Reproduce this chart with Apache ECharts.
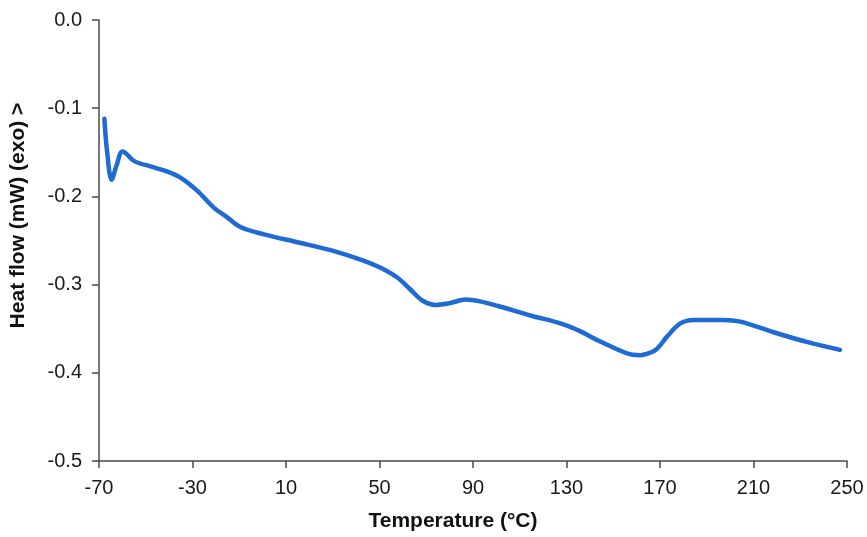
<!DOCTYPE html>
<html>
<head>
<meta charset="utf-8">
<script src="https://cdn.jsdelivr.net/npm/echarts@6/dist/echarts.min.js"></script>
<style>
  html, body { margin: 0; padding: 0; background: #fff; }
  #chart { width: 867px; height: 537px; }
</style>
</head>
<body>
<div id="chart"></div>
<script>
// DSC trace: temperature (°C) vs heat flow (mW), exotherm up
const temperature = [-67.7, -66.5, -64.6, -62.5, -59.9, -54.9, -48, -40.7, -35, -27.8, -20.8, -15, -9.3, 0.6, 14.9, 29.1, 43.4, 50.5, 57.6, 63, 68.3, 74, 80, 86.8, 93, 100.4, 114.6, 127.4, 136, 141.7, 155.9, 161.6, 166, 168.7, 173, 178.7, 184.4, 197.2, 204.4, 218.6, 232.8, 247];
const heatFlow = [-0.112, -0.150, -0.181, -0.165, -0.149, -0.160, -0.166, -0.172, -0.179, -0.194, -0.213, -0.224, -0.235, -0.243, -0.252, -0.261, -0.273, -0.281, -0.292, -0.305, -0.318, -0.323, -0.321, -0.317, -0.319, -0.324, -0.335, -0.344, -0.353, -0.361, -0.378, -0.380, -0.377, -0.373, -0.359, -0.344, -0.340, -0.340, -0.342, -0.354, -0.365, -0.374];

const xTicks = [-70, -30, 10, 50, 90, 130, 170, 210, 250];
const yTicks = [0.0, -0.1, -0.2, -0.3, -0.4, -0.5];

const chart = echarts.init(document.getElementById('chart'), null, { renderer: 'canvas' });
const axisColor = '#4a4a4a';
const fontFamily = 'Liberation Sans, Arial, sans-serif';
const labelFont = { fontFamily: fontFamily, fontSize: 20, color: '#1a1a1a' };
const nameFont = { fontFamily: fontFamily, fontSize: 21, fontWeight: 'bold', color: '#111' };

chart.setOption({
  backgroundColor: '#ffffff',
  animation: false,
  grid: { left: 98, right: 20, top: 20, bottom: 74, containLabel: false },
  xAxis: {
    type: 'value',
    min: xTicks[0],
    max: xTicks[xTicks.length - 1],
    interval: 40,
    name: 'Temperature (°C)',
    nameLocation: 'middle',
    nameGap: 50,
    nameTextStyle: Object.assign({ padding: [0, 40, 0, 0] }, nameFont),
    axisLine: { show: true, onZero: false, lineStyle: { color: axisColor, width: 1.5 } },
    axisTick: { show: true, inside: false, length: 7, lineStyle: { color: axisColor, width: 1.5 } },
    axisLabel: Object.assign({ margin: 17 }, labelFont),
    splitLine: { show: false }
  },
  yAxis: {
    type: 'value',
    min: yTicks[yTicks.length - 1],
    max: yTicks[0],
    interval: 0.1,
    name: 'Heat flow (mW) (exo) >',
    nameLocation: 'middle',
    nameGap: 70,
    nameTextStyle: Object.assign({ padding: [0, 0, 0, 50] }, nameFont),
    axisLine: { show: true, onZero: false, lineStyle: { color: axisColor, width: 1.5 } },
    axisTick: { show: true, inside: false, length: 7, lineStyle: { color: axisColor, width: 1.5 } },
    axisLabel: Object.assign({ margin: 17, formatter: v => v.toFixed(1) }, labelFont),
    splitLine: { show: false }
  },
  series: [{
    type: 'line',
    data: temperature.map((t, i) => [t, heatFlow[i]]),
    smooth: 0.35,
    showSymbol: false,
    lineStyle: { color: '#1f6bd4', width: 4.5, cap: 'round', join: 'round' }
  }]
});
</script>
</body>
</html>
